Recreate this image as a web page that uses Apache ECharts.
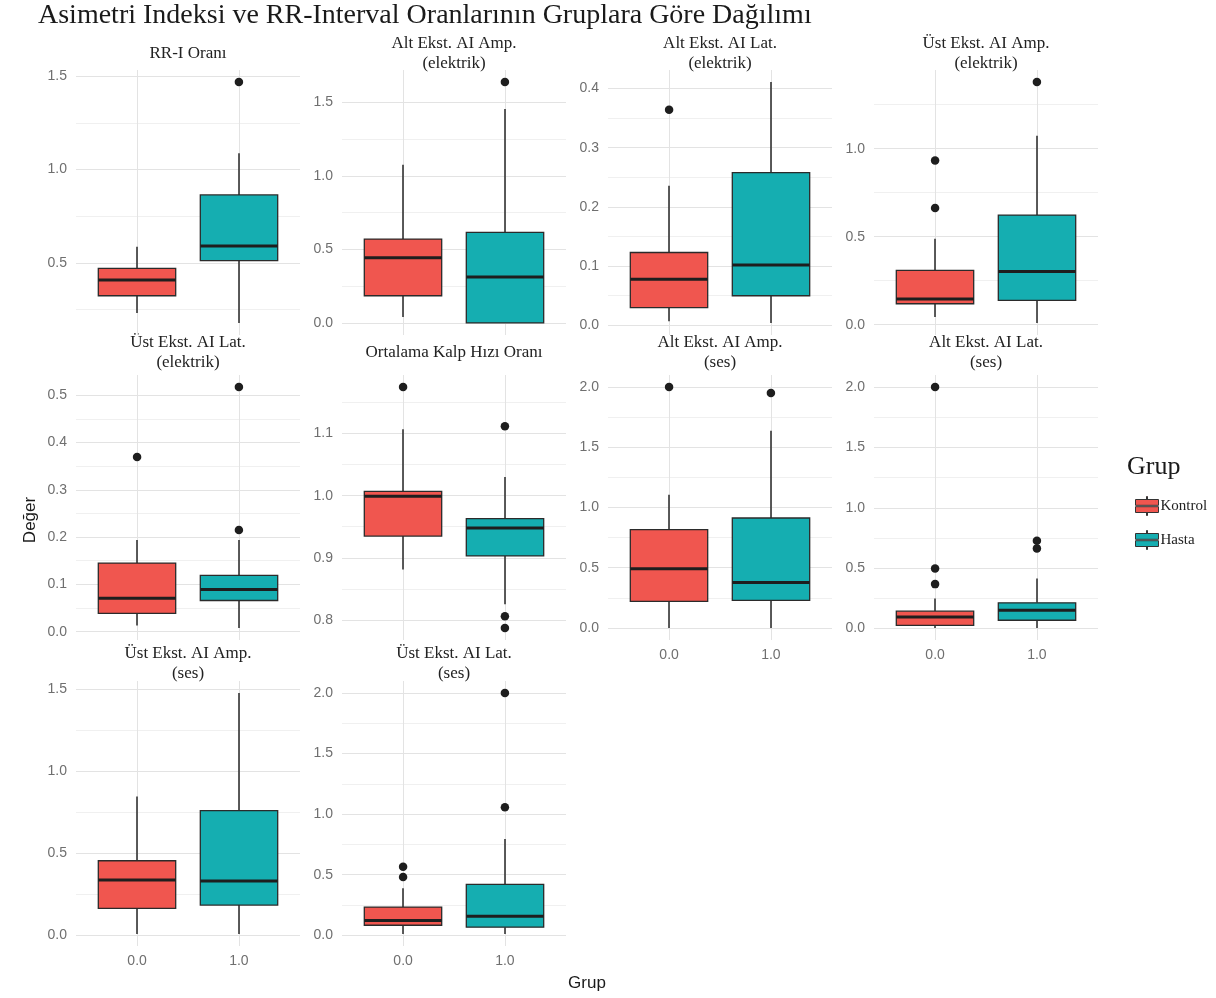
<!DOCTYPE html>
<html>
<head>
<meta charset="utf-8">
<script src="https://cdn.jsdelivr.net/npm/echarts@6/dist/echarts.min.js"></script>
<style>
html,body{margin:0;padding:0;background:#fff;}
#chart{width:1216px;height:998px;}
</style>
</head>
<body>
<div id="chart"></div>
<script>
// ---------- data ----------
const mainTitle = 'Asimetri Indeksi ve RR-Interval Oranlarının Gruplara Göre Dağılımı';
const panelTitles = [
  'RR-I Oranı',
  'Alt Ekst. AI Amp.\n(elektrik)',
  'Alt Ekst. AI Lat.\n(elektrik)',
  'Üst Ekst. AI Amp.\n(elektrik)',
  'Üst Ekst. AI Lat.\n(elektrik)',
  'Ortalama Kalp Hızı Oranı',
  'Alt Ekst. AI Amp.\n(ses)',
  'Alt Ekst. AI Lat.\n(ses)',
  'Üst Ekst. AI Amp.\n(ses)',
  'Üst Ekst. AI Lat.\n(ses)'
];
const groupNames = ['Kontrol', 'Hasta'];
const groupCodes = [0, 1];
const xTickLabels = ['0.0', '1.0'];
// [min whisker, Q1, median, Q3, max whisker]
const kontrolStats = [
  [0.231, 0.323, 0.407, 0.470, 0.586],
  [0.040, 0.185, 0.444, 0.571, 1.076],
  [0.007, 0.030, 0.078, 0.123, 0.236],
  [0.044, 0.119, 0.146, 0.309, 0.489],
  [0.013, 0.039, 0.071, 0.145, 0.194],
  [0.881, 0.935, 0.999, 1.007, 1.107],
  [0.000, 0.221, 0.492, 0.816, 1.106],
  [0.005, 0.027, 0.096, 0.144, 0.249],
  [0.008, 0.164, 0.337, 0.454, 0.846],
  [0.011, 0.083, 0.122, 0.233, 0.388]
];
const hastaStats = [
  [0.177, 0.511, 0.590, 0.864, 1.088],
  [0.000, 0.000, 0.312, 0.616, 1.455],
  [0.004, 0.050, 0.102, 0.258, 0.411],
  [0.010, 0.138, 0.303, 0.623, 1.074],
  [0.008, 0.066, 0.089, 0.119, 0.194],
  [0.825, 0.903, 0.948, 0.963, 1.030],
  [0.000, 0.229, 0.378, 0.913, 1.637],
  [0.005, 0.069, 0.152, 0.213, 0.415],
  [0.008, 0.184, 0.331, 0.760, 1.476],
  [0.011, 0.067, 0.158, 0.421, 0.795]
];
const kontrolOutliers = [
  [], [], [0.364], [0.663, 0.933], [0.369], [1.175], [2.0], [0.368, 0.498, 2.0], [], [0.482, 0.565]
];
const hastaOutliers = [
  [1.47], [1.639], [], [1.379], [0.215, 0.517], [0.787, 0.806, 1.112], [1.950], [0.664, 0.727], [], [1.058, 2.0]
];
const yTicks = [
  [0.5, 1.0, 1.5],
  [0.0, 0.5, 1.0, 1.5],
  [0.0, 0.1, 0.2, 0.3, 0.4],
  [0.0, 0.5, 1.0],
  [0.0, 0.1, 0.2, 0.3, 0.4, 0.5],
  [0.8, 0.9, 1.0, 1.1],
  [0.0, 0.5, 1.0, 1.5, 2.0],
  [0.0, 0.5, 1.0, 1.5, 2.0],
  [0.0, 0.5, 1.0, 1.5],
  [0.0, 0.5, 1.0, 1.5, 2.0]
];

// ---------- layout / style ----------
const colLeft = [76, 342, 608, 874];
const rowTop = [70, 375, 681];
const panelW = 224, panelH = 265;
const stripCenterY = [54, 353, 664];
const fillColors = ['#F0564F', '#15AEB1'];
const SERIF = 'Liberation Serif';
const SANS = 'Liberation Sans';
const bottomPanels = [6, 7, 8, 9];

const chart = echarts.init(document.getElementById('chart'), null, {renderer: 'canvas'});

const grids = [], xAxes = [], yAxes = [], series = [], graphics = [];

function renderBox(params, api) {
  const g = api.value(0);
  const pMin = api.coord([g, api.value(1)]);
  const pQ1 = api.coord([g, api.value(2)]);
  const pMed = api.coord([g, api.value(3)]);
  const pQ3 = api.coord([g, api.value(4)]);
  const pMax = api.coord([g, api.value(5)]);
  const halfW = api.size([0.76, 0])[0] / 2;
  const x = Math.round(pMed[0]);
  const fill = api.visual('color');
  return {
    type: 'group',
    children: [
      {type: 'line', shape: {x1: x, y1: pQ3[1], x2: x, y2: pMax[1]}, style: {stroke: '#333', lineWidth: 1.6}},
      {type: 'line', shape: {x1: x, y1: pQ1[1], x2: x, y2: pMin[1]}, style: {stroke: '#333', lineWidth: 1.6}},
      {type: 'rect', shape: {x: x - halfW, y: pQ3[1], width: 2 * halfW, height: Math.max(pQ1[1] - pQ3[1], 0.5)},
        style: {fill: fill, stroke: '#2b2b2b', lineWidth: 1.3}},
      {type: 'line', shape: {x1: x - halfW, y1: pMed[1], x2: x + halfW, y2: pMed[1]}, style: {stroke: '#1e1e1e', lineWidth: 3}}
    ]
  };
}

for (let i = 0; i < panelTitles.length; i++) {
  const row = Math.floor(i / 4), col = i % 4;
  const all = kontrolStats[i].concat(hastaStats[i], kontrolOutliers[i], hastaOutliers[i]);
  const lo = Math.min.apply(null, all), hi = Math.max.apply(null, all);
  const pad = (hi - lo) * 0.05;
  const yMin = lo - pad, yMax = hi + pad;

  grids.push({left: colLeft[col], top: rowTop[row], width: panelW, height: panelH, containLabel: false});
  const showX = bottomPanels.indexOf(i) >= 0;
  xAxes.push({
    type: 'value', gridIndex: i, min: -0.6, max: 1.6,
    axisLine: {show: false}, axisTick: {show: false}, splitLine: {show: false},
    axisLabel: {
      show: showX, customValues: groupCodes, margin: 8,
      formatter: v => xTickLabels[groupCodes.indexOf(Math.round(v))] || '',
      color: '#6f6f6f', fontFamily: SANS, fontSize: 14
    }
  });
  yAxes.push({
    type: 'value', gridIndex: i, min: yMin, max: yMax, scale: true,
    axisLine: {show: false}, axisTick: {show: false}, splitLine: {show: false},
    axisLabel: {
      customValues: yTicks[i], margin: 9, showMinLabel: true, showMaxLabel: true,
      formatter: v => v.toFixed(1),
      color: '#6f6f6f', fontFamily: SANS, fontSize: 14
    }
  });

  // gridlines (major at ticks, minor at midpoints) drawn through the axes via markLine
  const ticks = yTicks[i];
  const step = ticks.length > 1 ? ticks[1] - ticks[0] : 0.5;
  const minors = [];
  for (let k = -1; k < ticks.length; k++) {
    const m = ticks[0] + (k + 0.5) * step;
    if (m > yMin && m < yMax) minors.push(m);
  }
  const ml = [];
  minors.forEach(m => ml.push({yAxis: m, lineStyle: {color: '#f0f0f0', width: 1, type: 'solid'}}));
  ticks.forEach(t => ml.push({yAxis: t, lineStyle: {color: '#e3e3e3', width: 1, type: 'solid'}}));
  groupCodes.forEach(g => ml.push({xAxis: g, lineStyle: {color: '#e3e3e3', width: 1, type: 'solid'}}));
  series.push({
    type: 'line', xAxisIndex: i, yAxisIndex: i, data: [], silent: true, z: 0, zlevel: 0,
    markLine: {silent: true, z: 0, zlevel: 0, symbol: ['none', 'none'], label: {show: false}, animation: false, data: ml}
  });

  [kontrolStats, hastaStats].forEach((stats, gi) => {
    series.push({
      type: 'custom', name: groupNames[gi], xAxisIndex: i, yAxisIndex: i, z: 5,
      itemStyle: {color: fillColors[gi]},
      renderItem: renderBox,
      encode: {x: 0, y: [1, 2, 3, 4, 5]},
      data: [[groupCodes[gi]].concat(stats[i])]
    });
  });
  const outData = [];
  kontrolOutliers[i].forEach(v => outData.push([groupCodes[0], v]));
  hastaOutliers[i].forEach(v => outData.push([groupCodes[1], v]));
  series.push({
    type: 'scatter', xAxisIndex: i, yAxisIndex: i, z: 6, symbolSize: 8.5,
    itemStyle: {color: '#1e1e1e', opacity: 1}, data: outData
  });

  graphics.push({
    type: 'text', x: colLeft[col] + panelW / 2, y: stripCenterY[row],
    style: {text: panelTitles[i], font: '17px "' + SERIF + '"', fill: '#222', textAlign: 'center', textVerticalAlign: 'middle', lineHeight: 20}
  });
}

graphics.push({type: 'text', x: 38, y: 16,
  style: {text: mainTitle, font: '28px "' + SERIF + '"', fill: '#1a1a1a', textAlign: 'left', textVerticalAlign: 'middle'}});
graphics.push({type: 'text', x: 1127, y: 467,
  style: {text: 'Grup', font: '26px "' + SERIF + '"', fill: '#1a1a1a', textAlign: 'left', textVerticalAlign: 'middle'}});
graphics.push({type: 'text', x: 30, y: 520, rotation: Math.PI / 2,
  style: {text: 'Değer', font: '17px "' + SANS + '"', fill: '#1a1a1a', textAlign: 'center', textVerticalAlign: 'middle'}});
graphics.push({type: 'text', x: 587, y: 983,
  style: {text: 'Grup', font: '17px "' + SANS + '"', fill: '#1a1a1a', textAlign: 'center', textVerticalAlign: 'middle'}});

const legendIcon = 'path://M11,0 L12,0 L12,3 L11,3 Z M0,3 L23,3 L23,8.8 L0,8.8 Z M0,10.2 L23,10.2 L23,16 L0,16 Z M11,16 L12,16 L12,19 L11,19 Z';

chart.setOption({
  animation: false,
  backgroundColor: '#ffffff',
  grid: grids,
  xAxis: xAxes,
  yAxis: yAxes,
  legend: {
    orient: 'vertical', left: 1130, top: 491, itemWidth: 23, itemHeight: 19, itemGap: 14,
    selectedMode: false,
    data: groupNames.map(n => ({name: n, icon: legendIcon})),
    itemStyle: {borderColor: '#333', borderWidth: 1},
    textStyle: {fontFamily: SERIF, fontSize: 15, color: '#222', padding: [0, 0, 0, -3]}
  },
  graphic: graphics,
  series: series
});
</script>
</body>
</html>
